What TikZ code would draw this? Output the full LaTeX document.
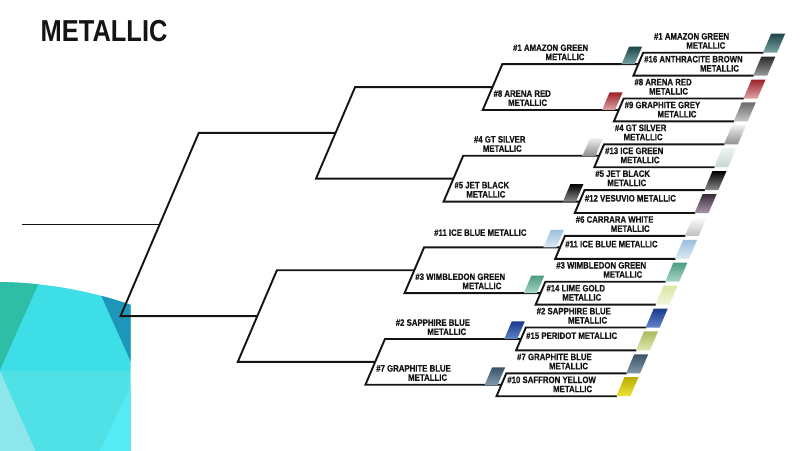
\documentclass[tikz,border=0pt]{standalone}
\usepackage{fontspec}
\setmainfont{Liberation Sans}[FakeStretch=0.84]
\newfontfamily\labfont{Liberation Sans}[FakeStretch=0.84, BoldFeatures={FakeBold=0.5}]
\definecolor{ink}{HTML}{141414}
\definecolor{fgreen}{HTML}{2DBEA5}
\definecolor{fcyan}{HTML}{3EDEE6}
\definecolor{fdark}{HTML}{1E96B9}
\definecolor{fmid}{HTML}{50E1E6}
\definecolor{fpale}{HTML}{8CE6EB}
\definecolor{fbright}{HTML}{55EBF5}
\tikzset{
  lab/.style={font=\labfont\fontsize{9.3}{9}\selectfont\bfseries, inner sep=0pt, text=ink},
  br/.style={draw=ink, line width=1.9pt, line join=miter},
}
\newcommand\brEntry[8]{%
  \definecolor{swA}{HTML}{#7}\definecolor{swB}{HTML}{#8}%
  \ifnum#6=4
    \shade[top color=swA,bottom color=swB] (785.5,#3-19) rectangle (799.5,#3);
  \else
    \shade[top color=swA,bottom color=swB] (649,#3-17.5) rectangle (662,#3);
  \fi
  \ifnum#4=2
    \node[lab,anchor=base west] (#1) at (#2+8.9,#3-4) {\begin{tabular}[b]{@{}r@{}}#5\\METALLIC\hspace*{3.8pt}\end{tabular}};
  \else
    \node[lab,anchor=base west] (#1) at (#2+5,#3-11.5) {#5};
  \fi}
\begin{document}
\begin{tikzpicture}[x=1pt,y=-1pt]
\fill[white] (0,0) rectangle (800,450);
\useasboundingbox (0,0) rectangle (800,450);
% corner decoration
\begin{scope}
  \clip (-6,701) circle (419);
  \clip (0,250) rectangle (130.5,450);
  \fill[fcyan] (-10,250) rectangle (140,371);
  \fill[fgreen] (-10,250) -- (53.4,250) -- (0,370) -- (-10,370) -- cycle;
  \fill[fdark] (80.8,250) -- (140,250) -- (140,382.4) -- cycle;
  \fill[fmid] (-10,371) rectangle (140,460);
  \fill[fpale] (-10,371) -- (0,371) -- (39.8,461) -- (-10,461) -- cycle;
  \fill[fbright] (131,386.2) -- (140,386.2) -- (140,461) -- (95,461) -- cycle;
\end{scope}
\node[font=\fontsize{30.3}{30}\selectfont\bfseries, anchor=base west, inner sep=0pt, text=ink] (title) at (40.5,41.7) {METALLIC};
\begin{scope}[xslant=0.427]
  \foreach \i in {0,...,15}{\pgfmathsetmacro\yy{52.7+22.9*\i}\coordinate (a4-\i) at (665.7,\yy);\coordinate (e4-\i) at (786,\yy);}
  \foreach \j in {0,...,7}{\pgfmathsetmacro\yy{64.15+45.8*\j}\coordinate (a3-\j) at (529.7,\yy);\coordinate (e3-\j) at (665.7,\yy);}
  \foreach \k in {0,...,3}{\pgfmathsetmacro\yy{87.05+91.6*\k}\coordinate (a2-\k) at (392.3,\yy);\coordinate (e2-\k) at (529.7,\yy);}
  \foreach \m in {0,1}{\pgfmathsetmacro\yy{132.85+183.2*\m}\coordinate (a1-\m) at (255.5,\yy);\coordinate (e1-\m) at (392.3,\yy);}
  \coordinate (r0) at (117.84,224.45);
  \coordinate (r1) at (255.5,224.45);
  \draw[br] (r0) -- (r1);
  \draw[br] (e1-0) -- (a1-0) -- (a1-1) -- (e1-1);
  \foreach \p in {0,1}{\pgfmathtruncatemacro\q{2*\p}\pgfmathtruncatemacro\r{2*\p+1}\draw[br] (e2-\q) -- (a2-\q) -- (a2-\r) -- (e2-\r);}
  \foreach \p in {0,...,3}{\pgfmathtruncatemacro\q{2*\p}\pgfmathtruncatemacro\r{2*\p+1}\draw[br] (e3-\q) -- (a3-\q) -- (a3-\r) -- (e3-\r);}
  \foreach \p in {0,...,7}{\pgfmathtruncatemacro\q{2*\p}\pgfmathtruncatemacro\r{2*\p+1}\draw[br] (e4-\q) -- (a4-\q) -- (a4-\r) -- (e4-\r);}
  % level 3 entries
  \brEntry{t3-0}{529.7}{64.15}{2}{\#1 AMAZON GREEN}{3}{1C474A}{7CA3A3}
  \brEntry{t3-1}{529.7}{109.95}{2}{\#8 ARENA RED}{3}{9E2228}{DDA5A7}
  \brEntry{t3-2}{529.7}{155.75}{2}{\#4 GT SILVER}{3}{EDEDED}{8E8E8E}
  \brEntry{t3-3}{529.7}{201.55}{2}{\#5 JET BLACK}{3}{000000}{8C8C8C}
  \brEntry{t3-4}{529.7}{247.35}{1}{\#11 ICE BLUE METALLIC}{3}{9DBFDC}{DCE9F4}
  \brEntry{t3-5}{529.7}{293.15}{2}{\#3 WIMBLEDON GREEN}{3}{4E9C85}{A9D6C7}
  \brEntry{t3-6}{529.7}{338.95}{2}{\#2 SAPPHIRE BLUE}{3}{183A8E}{6384C6}
  \brEntry{t3-7}{529.7}{384.75}{2}{\#7 GRAPHITE BLUE}{3}{3A5367}{8299AA}
  % level 4 entries
  \brEntry{t4-0}{665.7}{52.7}{2}{\#1 AMAZON GREEN}{4}{1C474A}{7CA3A3}
  \brEntry{t4-1}{665.7}{75.6}{2}{\#16 ANTHRACITE BROWN}{4}{2A2A2A}{9A9A9A}
  \brEntry{t4-2}{665.7}{98.5}{2}{\#8 ARENA RED}{4}{9E2228}{DDA5A7}
  \brEntry{t4-3}{665.7}{121.4}{2}{\#9 GRAPHITE GREY}{4}{6C6C6C}{C6C6C6}
  \brEntry{t4-4}{665.7}{144.3}{2}{\#4 GT SILVER}{4}{EDEDED}{8E8E8E}
  \brEntry{t4-5}{665.7}{167.2}{2}{\#13 ICE GREEN}{4}{EEF3F2}{C8D6D4}
  \brEntry{t4-6}{665.7}{190.1}{2}{\#5 JET BLACK}{4}{000000}{8C8C8C}
  \brEntry{t4-7}{665.7}{213.0}{1}{\#12 VESUVIO METALLIC}{4}{3B2C3C}{A896A8}
  \brEntry{t4-8}{665.7}{235.9}{2}{\#6 CARRARA WHITE}{4}{FFFFFF}{C0C0C0}
  \brEntry{t4-9}{665.7}{258.8}{1}{\#11 ICE BLUE METALLIC}{4}{9DBFDC}{DCE9F4}
  \brEntry{t4-10}{665.7}{281.7}{2}{\#3 WIMBLEDON GREEN}{4}{4E9C85}{A9D6C7}
  \brEntry{t4-11}{665.7}{304.6}{2}{\#14 LIME GOLD}{4}{DBE6A6}{F2F6DC}
  \brEntry{t4-12}{665.7}{327.5}{2}{\#2 SAPPHIRE BLUE}{4}{183A8E}{6384C6}
  \brEntry{t4-13}{665.7}{350.4}{1}{\#15 PERIDOT METALLIC}{4}{A9BD5C}{DFE6B3}
  \brEntry{t4-14}{665.7}{373.3}{2}{\#7 GRAPHITE BLUE}{4}{3A5367}{8299AA}
  \brEntry{t4-15}{665.7}{396.2}{2}{\#10 SAFFRON YELLOW}{4}{B9AE00}{ECE338}
\end{scope}
\end{tikzpicture}
\end{document}
